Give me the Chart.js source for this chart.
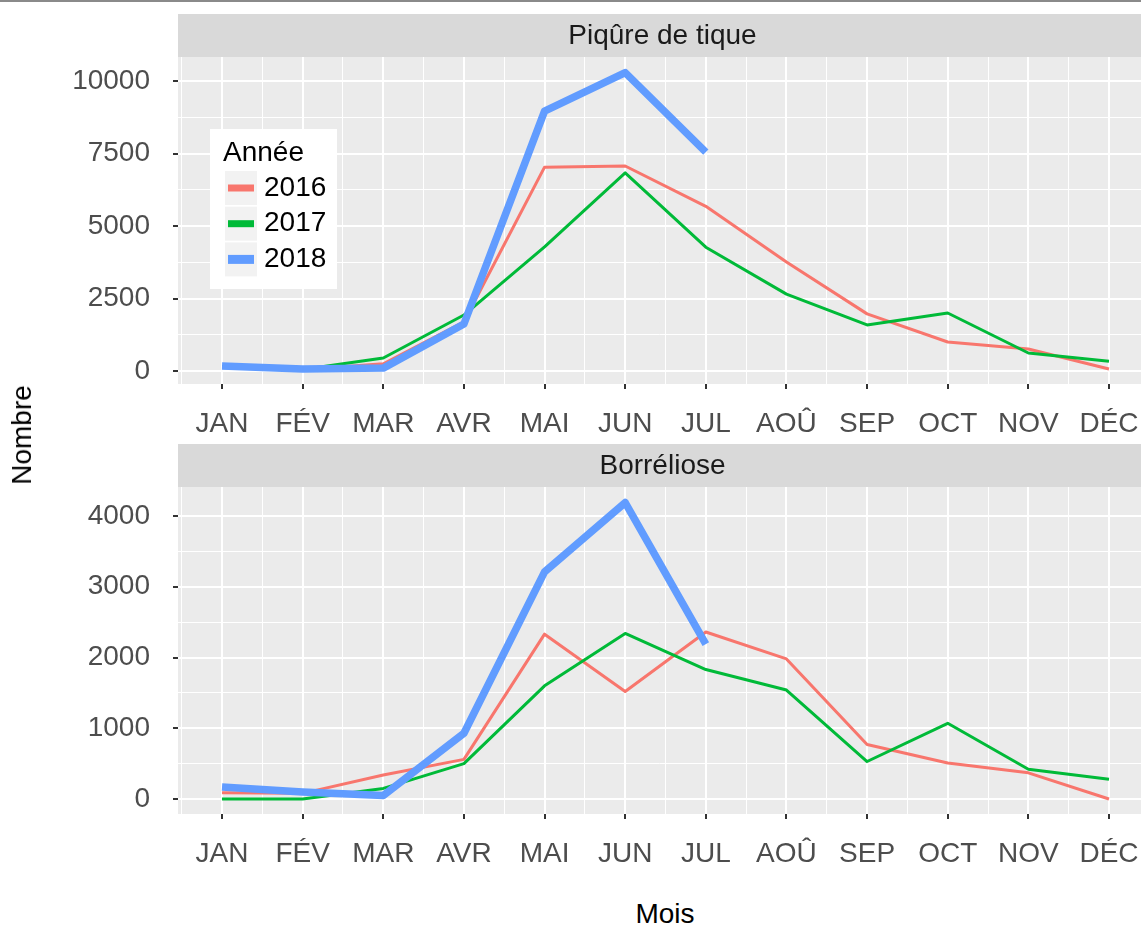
<!DOCTYPE html>
<html lang="fr">
<head>
    <meta charset="UTF-8">
    <title>Piqûre de tique et Borréliose</title>
    <script src="https://cdn.jsdelivr.net/npm/chart.js"></script>
    <style>
        body {
            margin: 0;
            background: #ffffff;
            font-family: "Liberation Sans", Arial, sans-serif;
        }
        #page {
            position: relative;
            width: 1141px;
            height: 927px;
            overflow: hidden;
        }
        #topline {
            position: absolute;
            left: 0; top: 0;
            width: 1141px; height: 2px;
            background: #8a8a8a;
            z-index: 2;
        }
        canvas {
            position: absolute;
            left: 0;
        }
        #tiques { top: 0; }
        #borreliose { top: 430px; }
        .axis-title {
            position: absolute;
            font-size: 28px;
            line-height: 1;
            color: #000;
            white-space: nowrap;
        }
        #ylab {
            left: 22px; top: 435px;
            transform: translate(-50%, -50%) rotate(-90deg);
        }
        #xlab {
            left: 665px; top: 914px;
            transform: translate(-50%, -50%);
        }
    </style>
</head>
<body>
<div id="page">
    <div id="topline"></div>
    <canvas id="tiques" width="1141" height="440"></canvas>
    <canvas id="borreliose" width="1141" height="440"></canvas>
    <div class="axis-title" id="ylab">Nombre</div>
    <div class="axis-title" id="xlab">Mois</div>
</div>
<script>
    // Mois (axe x) et années
    const months = ["JAN", "FÉV", "MAR", "AVR", "MAI", "JUN", "JUL", "AOÛ", "SEP", "OCT", "NOV", "DÉC"];
    const years = ["2016", "2017", "2018"];
    const colors = ["#F8766D", "#00BA38", "#619CFF"];

    // Piqûre de tique
    const tiques2016 = [150, 50, 250, 1700, 7030, 7070, 5680, 3760, 1970, 1000, 760, 70];
    const tiques2017 = [150, 50, 450, 1930, 4280, 6830, 4270, 2650, 1590, 2000, 620, 340];
    const tiques2018 = [170, 70, 100, 1620, 8960, 10290, 7550];
    const tiquesTicks = [0, 2500, 5000, 7500, 10000];

    // Borréliose
    const borr2016 = [90, 80, 340, 560, 2330, 1520, 2360, 1980, 770, 510, 370, 0];
    const borr2017 = [0, 0, 150, 500, 1600, 2340, 1830, 1540, 530, 1070, 420, 280];
    const borr2018 = [170, 100, 50, 930, 3210, 4190, 2190];
    const borrTicks = [0, 1000, 2000, 3000, 4000];

    const textGrey = '#4D4D4D';
    const font = '"Liberation Sans", Arial, sans-serif';
    const xMin = -0.546, xMax = 11.397;

    // gray panel + facet strip (ggplot look)
    const facetPlugin = {
        id: 'facet',
        beforeDraw(chart, args, opts) {
            const { ctx, chartArea: a } = chart;
            ctx.save();
            ctx.fillStyle = '#EBEBEB';
            ctx.fillRect(a.left, a.top, a.right - a.left, a.bottom - a.top);
            ctx.fillStyle = '#D9D9D9';
            ctx.fillRect(a.left, a.top - 43, a.right - a.left, 43);
            ctx.fillStyle = '#1A1A1A';
            ctx.font = '28px ' + font;
            ctx.textAlign = 'center';
            ctx.textBaseline = 'middle';
            ctx.fillText(opts.title, (a.left + a.right) / 2 + 3, a.top - 21);
            ctx.restore();
        }
    };

    // legend box drawn inside the top panel
    const legendPlugin = {
        id: 'anneeLegend',
        afterDraw(chart, args, opts) {
            if (!opts.show) return;
            const ctx = chart.ctx;
            ctx.save();
            ctx.fillStyle = '#ffffff';
            ctx.fillRect(210, 129, 127, 160);
            ctx.fillStyle = '#000';
            ctx.font = '28px ' + font;
            ctx.textBaseline = 'middle';
            ctx.fillText('Année', 223, 153);
            years.forEach((y, i) => {
                const ds = chart.data.datasets.find(d => d.label === y);
                const cy = 188 + i * 35.7;
                ctx.fillStyle = '#F2F2F2';
                ctx.fillRect(225, cy - 17, 32, 34);
                ctx.strokeStyle = ds.borderColor;
                ctx.lineWidth = i === 2 ? 9 : 7;
                ctx.beginPath();
                ctx.moveTo(228, cy);
                ctx.lineTo(254, cy);
                ctx.stroke();
                ctx.fillStyle = '#000';
                ctx.fillText(y, 264, cy);
            });
            ctx.restore();
        }
    };

    function toPoints(values) {
        return values.map((v, i) => ({ x: i, y: v }));
    }

    // integer = month (major), .5 = minor
    function xKind(v) {
        return Number.isInteger(v) ? 'major' : 'minor';
    }

    function makeChart(id, title, series, yMin, yMax, majors, showLegend) {
        const step = majors[1] - majors[0];
        const yTicks = [];
        majors.forEach(m => {
            yTicks.push(m);
            if (m + step / 2 < yMax) yTicks.push(m + step / 2);
        });
        const xTicks = [];
        for (let i = -0.5; i <= 11; i += 0.5) xTicks.push(i);

        const datasets = series.map((s, i) => ({
            label: years[i],
            data: toPoints(s),
            borderColor: colors[i],
            backgroundColor: colors[i],
            borderWidth: i === 2 ? 7.5 : 3,
            pointRadius: 0,
            tension: 0,
            borderJoinStyle: 'round',
            borderCapStyle: 'butt',
            order: 3 - i
        }));

        return new Chart(document.getElementById(id), {
            type: 'line',
            data: { datasets },
            plugins: [facetPlugin, legendPlugin],
            options: {
                responsive: false,
                animation: false,
                layout: { padding: { top: 57, left: 0, right: 0, bottom: 0 } },
                plugins: {
                    legend: { display: false },
                    tooltip: { enabled: false },
                    facet: { title: title },
                    anneeLegend: { show: showLegend }
                },
                scales: {
                    x: {
                        type: 'linear',
                        min: xMin,
                        max: xMax,
                        afterBuildTicks: scale => { scale.ticks = xTicks.map(v => ({ value: v })); },
                        afterFit: scale => {
                            scale.height = 56;
                            scale.paddingLeft = 0;
                            scale.paddingRight = 0;
                        },
                        border: { display: false },
                        grid: {
                            color: '#ffffff',
                            lineWidth: c => xKind(c.tick.value) === 'major' ? 2 : 1,
                            tickColor: c => xKind(c.tick.value) === 'major' ? '#333333' : 'rgba(0,0,0,0)',
                            tickWidth: 2,
                            tickLength: 5
                        },
                        ticks: {
                            autoSkip: false,
                            maxRotation: 0,
                            padding: 18,
                            color: textGrey,
                            font: { family: font, size: 28 },
                            callback: v => xKind(v) === 'major' ? months[v] : ''
                        }
                    },
                    y: {
                        min: yMin,
                        max: yMax,
                        afterBuildTicks: scale => { scale.ticks = yTicks.map(v => ({ value: v })); },
                        afterFit: scale => { scale.width = 178; },
                        border: { display: false },
                        grid: {
                            color: '#ffffff',
                            lineWidth: c => majors.includes(c.tick.value) ? 2 : 1,
                            tickColor: c => majors.includes(c.tick.value) ? '#333333' : 'rgba(0,0,0,0)',
                            tickWidth: 2,
                            tickLength: 5
                        },
                        ticks: {
                            padding: 23,
                            color: textGrey,
                            font: { family: font, size: 28 },
                            callback: v => majors.includes(v) ? String(v) : ''
                        }
                    }
                }
            }
        });
    }

    makeChart('tiques', 'Piqûre de tique', [tiques2016, tiques2017, tiques2018],
        -448, 10828, tiquesTicks, true);
    makeChart('borreliose', 'Borréliose', [borr2016, borr2017, borr2018],
        -212, 4410, borrTicks, false);
</script>
</body>
</html>
